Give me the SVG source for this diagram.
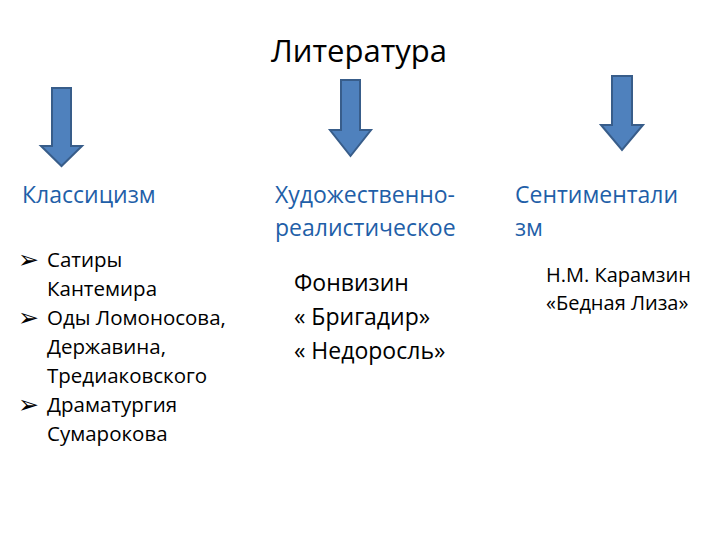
<svg xmlns="http://www.w3.org/2000/svg" width="720" height="540" viewBox="0 0 720 540">
<style>
text{font-family:"Open Sans","Liberation Sans",sans-serif;}
.h{font-size:23px;fill:#1F5FA8;}
.b{font-size:20.5px;fill:#000;}
.k{font-size:25px;fill:#000;font-family:"DejaVu Sans",sans-serif;}
.s{font-size:20px;fill:#000;}
.d{font-size:23px;fill:#000;}
.arr{fill:#4F81BD;stroke:#385D8A;stroke-width:2;}
</style>
<rect width="720" height="540" fill="#fff"/>
<text x="359" y="62" font-size="31" text-anchor="middle" fill="#000">Литература</text>
<g id="connectors">
<path class="arr" d="M52,88H71V146H82L61.5,166L41,146H52Z"/>
<path class="arr" d="M341,80H360V130H371L350.5,156L330,130H341Z"/>
<path class="arr" d="M612,76H632V125H643L622,150L601,125H612Z"/>
</g>
<g id="n1">
<text class="h" x="22" y="203">Классицизм</text>
<text class="k" x="18" y="268">➢</text>
<text class="b" x="47" y="267">Сатиры</text>
<text class="b" x="47" y="296">Кантемира</text>
<text class="k" x="18" y="326">➢</text>
<text class="b" x="47" y="325">Оды Ломоносова,</text>
<text class="b" x="47" y="354">Державина,</text>
<text class="b" x="47" y="383">Тредиаковского</text>
<text class="k" x="18" y="413">➢</text>
<text class="b" x="47" y="412">Драматургия</text>
<text class="b" x="47" y="441">Сумарокова</text>
</g>
<g id="n2">
<text class="h" x="275" y="203">Художественно-</text>
<text class="h" x="275" y="236">реалистическое</text>
<text class="d" x="294" y="291">Фонвизин</text>
<text class="d" x="294" y="325">« Бригадир»</text>
<text class="d" x="294" y="359">« Недоросль»</text>
</g>
<g id="n3">
<text class="h" x="515" y="203">Сентиментали</text>
<text class="h" x="515" y="236">зм</text>
<text class="s" x="546" y="282">Н.М. Карамзин</text>
<text class="s" x="546" y="310">«Бедная Лиза»</text>
</g>
</svg>
